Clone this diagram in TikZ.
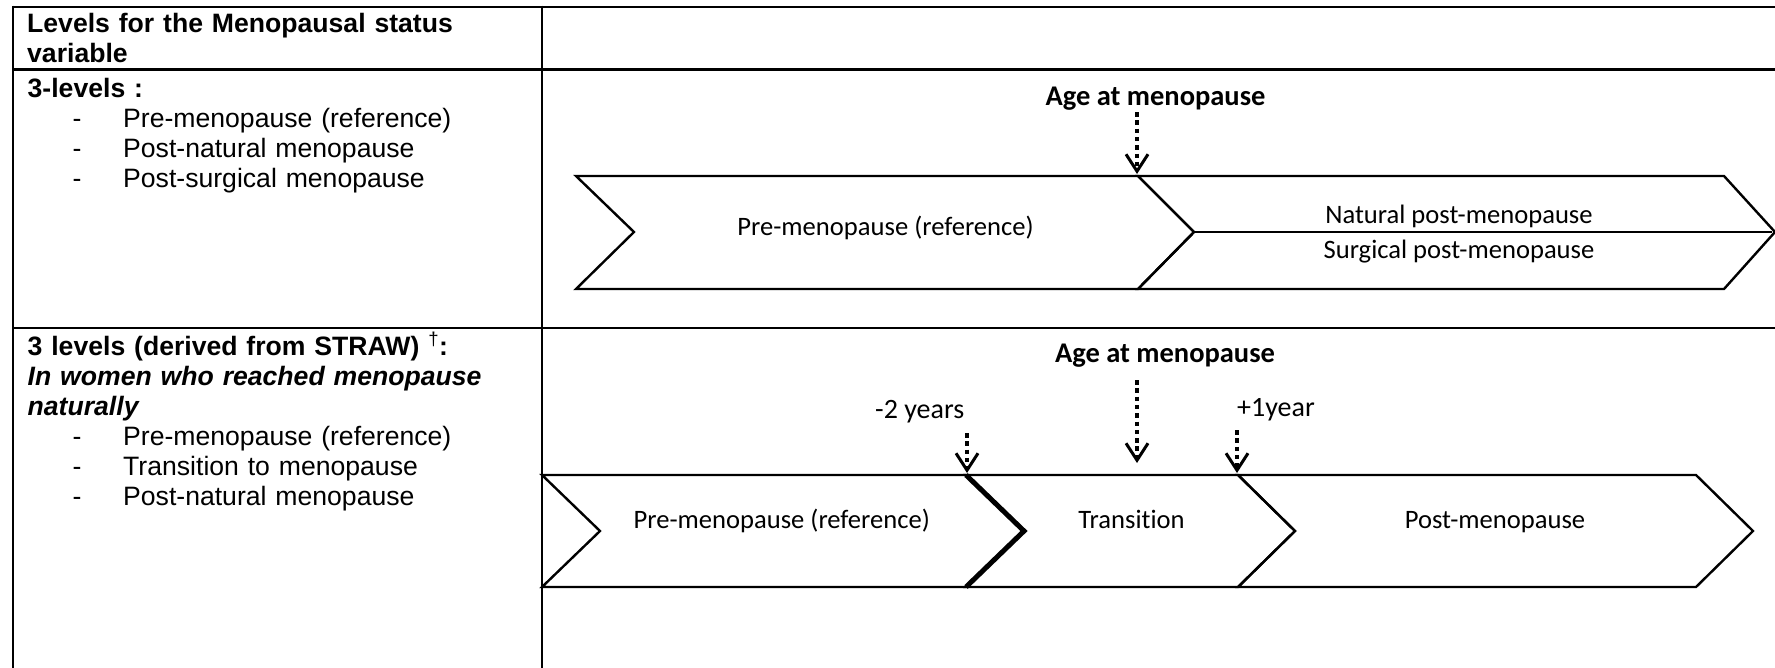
\documentclass[tikz,border=0pt]{standalone}
\usepackage{fontspec}
\setmainfont{Liberation Sans}
\newfontfamily\calibri[Ligatures=NoCommon]{Carlito}
\usetikzlibrary{arrows.meta}
\newcommand\bul{\makebox[95.5pt][l]{\hspace*{45pt}-}}
\begin{document}
\begin{tikzpicture}[x=1pt,y=-1pt,
  grid/.style={line width=2.8pt},
  chev/.style={line width=2.4pt, line join=miter},
  thickedge/.style={line width=5pt, line join=miter},
  marker/.style={line width=3.6pt, dash pattern=on 4.5pt off 3.8pt,
    -{Straight Barb[length=17pt,width=22pt,line width=3pt]}},
  celltxt/.style={anchor=base west, inner sep=0pt, text width=505pt, align=left,
    font=\fontsize{26.6}{30}\selectfont},
  ctxt/.style={anchor=base, inner sep=0pt, font=\calibri\fontsize{26.6}{30}\selectfont},
  agetxt/.style={anchor=base, inner sep=0pt, font=\calibri\bfseries\fontsize{28.5}{32}\selectfont},
  yrtxt/.style={anchor=base west, inner sep=0pt, font=\calibri\fontsize{28}{32}\selectfont}
]
\useasboundingbox (0,0) rectangle (1775,667);
\fill[white] (0,0) rectangle (1775,667);

% table grid
\draw[grid] (13,7) -- (1776,7);
\draw[grid] (13,69.5) -- (1776,69.5);
\draw[grid] (13,328) -- (1776,328);
\draw[grid] (13,5.6) -- (13,668);
\draw[grid] (542,5.6) -- (542,668);

% left column texts
\node[celltxt] (hdr) at (27,32) {\bfseries Levels for the Menopausal status\\variable};
\node[celltxt] (lv3) at (27.5,97) {\textbf{3-levels :}\\
  \bul Pre-menopause (reference)\\
  \bul Post-natural menopause\\
  \bul Post-surgical menopause};
\node[celltxt] (straw) at (27.5,355) {\textbf{3 levels (derived from STRAW) \textsuperscript{\mdseries †}:}\\
  \textbf{\itshape In women who reached menopause}\\
  \textbf{\itshape naturally}\\
  \bul Pre-menopause (reference)\\
  \bul Transition to menopause\\
  \bul Post-natural menopause};

% row 1 chevrons
\draw[chev] (576,176) -- (1138,176) -- (1194,232) -- (1138,289) -- (576,289) -- (634,232) -- cycle;
\draw[chev] (1138,176) -- (1724,176) -- (1775,232) -- (1724,289) -- (1138,289) -- (1194,232) -- cycle;
\draw[chev] (1194,232) -- (1772,232);

\node[agetxt] (age1) at (1155.5,105) {Age at menopause};
\coordinate (a1s) at (1137,112);
\coordinate (a1e) at (1137,174);
\draw[marker] (a1s) -- (a1e);

\node[ctxt] (pre1) at (885.5,235) {Pre-menopause (reference)};
\node[ctxt] (nat1) at (1459,223) {Natural post-menopause};
\node[ctxt] (sur1) at (1459,258) {Surgical post-menopause};

% row 2 chevrons
\draw[chev] (542,475) -- (966,475) -- (1024,531) -- (966,587) -- (542,587) -- (600,531) -- cycle;
\draw[chev] (966,475) -- (1238,475) -- (1295,531) -- (1238,587) -- (966,587) -- (1024,531) -- cycle;
\draw[chev] (1238,475) -- (1696,475) -- (1753,531) -- (1696,587) -- (1238,587) -- (1295,531) -- cycle;
\draw[thickedge] (966,475) -- (1024,531) -- (966,587);

\node[agetxt] (age2) at (1165,362) {Age at menopause};
\node[yrtxt] (m2y) at (875,418) {-2 years};
\node[yrtxt] (p1y) at (1237,416) {+1year};
\coordinate (b1s) at (967,433);
\coordinate (b1e) at (967,473);
\coordinate (b2s) at (1137,380);
\coordinate (b2e) at (1137,463);
\coordinate (b3s) at (1237,430);
\coordinate (b3e) at (1237,473);
\draw[marker] (b1s) -- (b1e);
\draw[marker] (b2s) -- (b2e);
\draw[marker] (b3s) -- (b3e);

\node[ctxt] (pre2) at (781.7,528) {Pre-menopause (reference)};
\node[ctxt] (tra2) at (1131.5,528) {Transition};
\node[ctxt] (pos2) at (1495,528) {Post-menopause};
\end{tikzpicture}
\end{document}
